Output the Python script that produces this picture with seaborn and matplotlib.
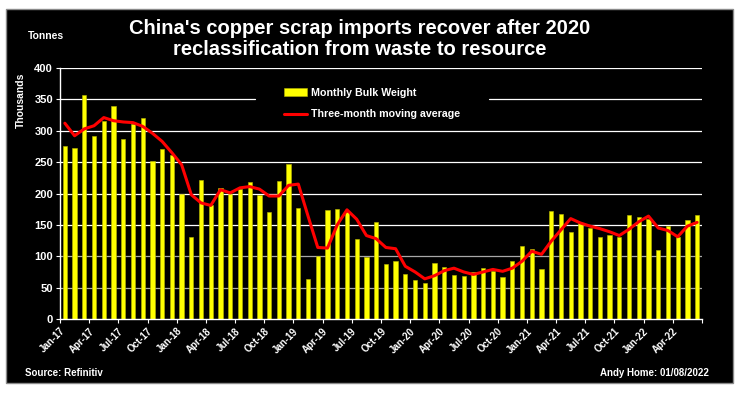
import numpy as np
import pandas as pd
import matplotlib.pyplot as plt
import matplotlib.patches as mpatches
import seaborn as sns

# monthly bulk weight, thousand tonnes, Jan-17 .. Jun-22
months = list(pd.date_range('2017-01-01', periods=66, freq='MS').strftime('%b-%y'))
bulk_weight = [275, 273, 357, 292, 315, 340, 287, 310, 321, 252, 271, 262,
               200, 130, 222, 182, 209, 199, 207, 218, 197, 171, 220, 247,
               177, 64, 100, 174, 176, 170, 128, 99, 155, 87, 92, 72,
               62, 58, 90, 83, 70, 69, 75, 81, 76, 67, 93, 116,
               112, 80, 172, 168, 139, 153, 145, 130, 134, 131, 165, 162,
               159, 110, 149, 130, 158, 165]
# three-month moving average as drawn
moving_avg = [312, 292, 303, 308, 321, 316, 314, 313, 307, 296, 283, 265,
              246, 198, 185, 181, 206, 201, 209, 211, 207, 196, 196, 213,
              215, 164, 114, 113, 150, 174, 159, 133, 128, 114, 112, 84,
              75, 64, 69, 77, 81, 75, 71, 75, 79, 76, 81, 92,
              108, 103, 124, 142, 160, 153, 148, 144, 139, 133, 143, 155,
              164, 145, 141, 131, 148, 154]
tick_labels = months[::3]
y_ticks = [0, 50, 100, 150, 200, 250, 300, 350, 400]

df = pd.DataFrame({'month': months, 'weight': bulk_weight,
                   'avg': moving_avg, 'pos': np.arange(len(months))})

sns.set_style('dark')
plt.rcParams['font.family'] = ['Liberation Sans', 'DejaVu Sans']
plt.rcParams['font.weight'] = 'bold'

fig = plt.figure(figsize=(7.43, 3.93), dpi=100)
fig.patch.set_facecolor('white')
fig.patches.append(mpatches.Rectangle((6 / 743, 1 - 383 / 393), 727 / 743, 374 / 393,
                                      transform=fig.transFigure, facecolor='black',
                                      edgecolor='#8a8a8a', linewidth=1, zorder=-10))

ax = fig.add_axes([60 / 743, 1 - 319 / 393, 642 / 743, 251 / 393])
ax.set_facecolor('black')

sns.barplot(data=df, x='month', y='weight', color='#FFFF00', width=0.43,
            saturation=1, edgecolor='#b8b800', linewidth=0.4,
            label='Monthly Bulk Weight', ax=ax, zorder=2)
sns.lineplot(data=df, x='pos', y='avg', color='#FF0000', linewidth=2.2,
             label='Three-month moving average', ax=ax, zorder=3)

ax.set_xlim(-0.5, len(months) - 0.5)
ax.set_ylim(0, 400)
ax.set_yticks(y_ticks)
ax.set_yticklabels([str(v) for v in y_ticks], fontsize=8, color='white', fontweight='bold')
xt = np.arange(-0.5, len(months), 3)
ax.set_xticks(xt)
ax.set_xticklabels(tick_labels + [''] * (len(xt) - len(tick_labels)), rotation=45,
                   ha='right', rotation_mode='anchor', fontsize=7, color='white',
                   fontweight='bold')
ax.tick_params(axis='both', colors='white', length=3, width=0.8, direction='out',
               bottom=True, left=True, pad=2)
ax.set_xlabel('')
ax.set_ylabel('')

# gridlines; the 350 line is broken where the legend sits
ax.grid(False)
for v in y_ticks[1:]:
    c = '#a8a8a8' if v <= 100 else 'white'
    if v == 350:
        ax.axhline(v, xmax=(255 - 60) / 642, color=c, linewidth=0.9, zorder=1)
        ax.axhline(v, xmin=(489 - 60) / 642, color=c, linewidth=0.9, zorder=1)
    else:
        ax.axhline(v, color=c, linewidth=0.9, zorder=1)

for side in ['top', 'right']:
    ax.spines[side].set_visible(False)
for side in ['left', 'bottom']:
    ax.spines[side].set_visible(True)
    ax.spines[side].set_color('white')
    ax.spines[side].set_linewidth(1)

handles, labels = ax.get_legend_handles_labels()
order = [labels.index('Monthly Bulk Weight'), labels.index('Three-month moving average')]
leg = ax.legend([handles[i] for i in order], [labels[i] for i in order],
                loc='upper left', bbox_to_anchor=(0.349, 0.922), frameon=False,
                fontsize=7.7, handlelength=2.1, handletextpad=0.4,
                labelspacing=1.1, borderpad=0, borderaxespad=0)
for t in leg.get_texts():
    t.set_color('white')
    t.set_fontweight('bold')
leg.set_zorder(5)

fig.text(360 / 743, 1 - 39 / 393, "China's copper scrap imports recover after 2020\n"
         "reclassification from waste to resource", ha='center', va='center',
         fontsize=14.5, fontweight='bold', color='white', linespacing=1.1)
fig.text(28 / 743, 1 - 36 / 393, 'Tonnes', fontsize=7.5, fontweight='bold',
         color='white', va='center')
fig.text(21 / 743, 1 - 100 / 393, 'Thousands', fontsize=7.5, fontweight='bold',
         color='white', va='center', ha='center', rotation=90)
fig.text(25 / 743, 1 - 373 / 393, 'Source: Refinitiv', fontsize=7, fontweight='bold',
         color='white', va='center')
fig.text(709 / 743, 1 - 373 / 393, 'Andy Home: 01/08/2022', fontsize=7,
         fontweight='bold', color='white', va='center', ha='right')

fig.savefig('out.png', dpi=100, facecolor=fig.get_facecolor())
